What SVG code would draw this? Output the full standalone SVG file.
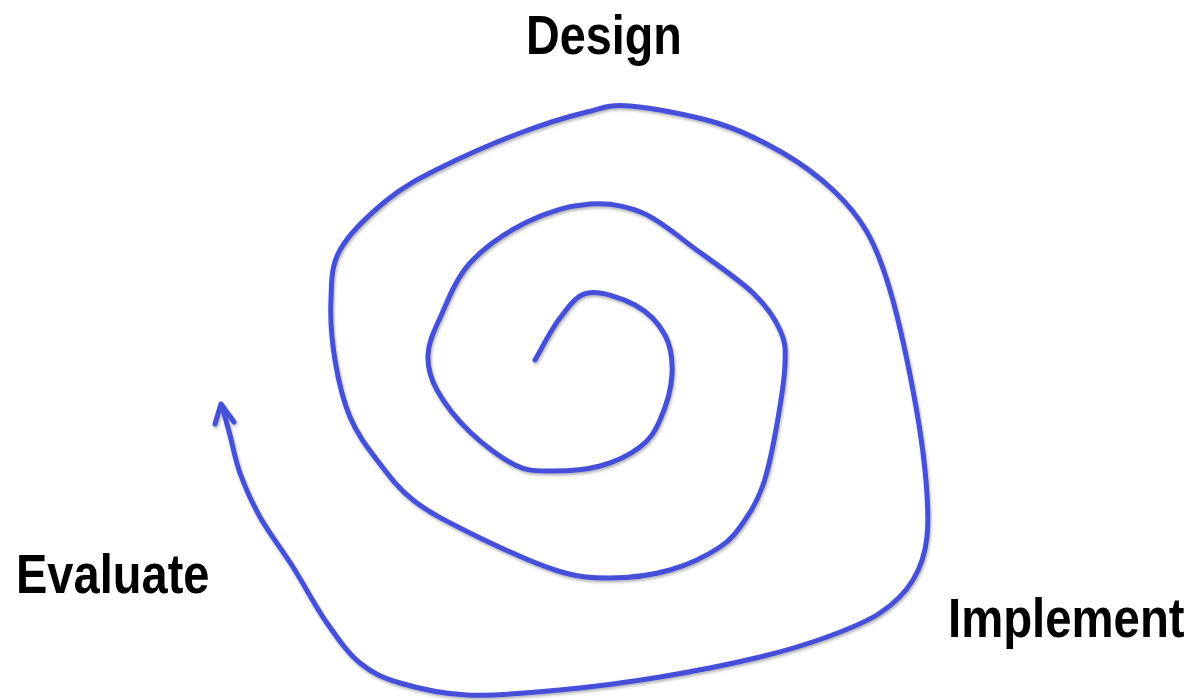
<svg xmlns="http://www.w3.org/2000/svg" width="1194" height="700" viewBox="0 0 1194 700">
  <style>
    .lbl { font-family: "Liberation Sans", Arial, sans-serif; font-weight: bold; font-size: 56px; fill: #000000; }
    .spiral { fill: none; stroke: #4450d9; stroke-width: 5; stroke-linecap: round; stroke-linejoin: round; }
  </style>
  <defs>
    <filter id="shadow" x="-10%" y="-10%" width="120%" height="120%">
      <feDropShadow dx="1" dy="2" stdDeviation="1.5" flood-color="#000000" flood-opacity="0.3"/>
    </filter>
  </defs>
  <rect width="1194" height="700" fill="#ffffff"/>
  <g id="connectors" filter="url(#shadow)">
    <path id="spiral" class="spiral" d="M535,360 C543,346 551.2,329.2 560,318 S575.5,295.2 588,293 S622.2,298 635,305 S658.8,323.3 665,335 S672.8,360.8 672,375 S665.3,408 660,420 S650,439.3 640,447 S615,462 600,466 S564.2,471.2 550,471 S528.3,471.5 515,465 S483,444.5 470,432 S444,402.8 437,390 S427.5,367 428,355 S433,333.3 440,318 S455.5,279 470,263 S507,231.8 527,222 S570.7,205.5 590,204 S625,205.2 643,213 S679.7,237.7 698,251 S739.3,279.8 753,293 S774.7,318 780,330 S785.8,347.5 785,365 S778.7,415 775,435 S768,470.8 763,485 S752.2,509.7 745,520 S732.5,538.7 720,547 S688.3,564.8 670,570 S629.2,578 610,578 S578.3,577.5 555,570 S493.7,544.7 470,533 S428.5,512.2 413,500 S387.5,473.8 377,460 S357,433.7 350,417 S338.2,379.5 335,360 S330.2,318.3 331,300 S330.7,266.7 340,250 S370.3,213.7 387,200 S417.8,179.2 440,168 S495.5,142.3 520,133 S568.7,116.5 587,112 S608.3,104.2 630,106 S691.5,115.2 717,123 S763.7,141.8 783,153 S819,176.8 833,190 S857.5,215.3 867,232 S882.5,264.5 890,290 S906.2,355 912,385 S922.5,444.7 925,470 S929,518.7 927,537 S920.8,567.3 913,580 S894.3,603.5 880,613 S847,629.7 827,637 S787.8,650.3 760,657 S693.3,671.5 660,677 S592.2,687 560,690 S493.7,696.2 467,695 S417.8,688.3 400,683 S372.2,673 360,663 S338.2,639 327,623 S304.2,584.7 293,567 S268.8,532.7 260,517 S245,486.7 240,473 S233,446.2 230,435 S224.7,415.7 222,406"/>
    <path id="arrowhead" class="spiral" d="M215,424 L221,404 L234,422"/>
  </g>
  <g id="design">
    <text class="lbl" transform="translate(526,54) scale(0.835,1)" x="0" y="0">Design</text>
  </g>
  <g id="evaluate">
    <text class="lbl" transform="translate(16,593) scale(0.84,1)" x="0" y="0">Evaluate</text>
  </g>
  <g id="implement">
    <text class="lbl" transform="translate(948,637) scale(0.845,1)" x="0" y="0">Implement</text>
  </g>
</svg>
